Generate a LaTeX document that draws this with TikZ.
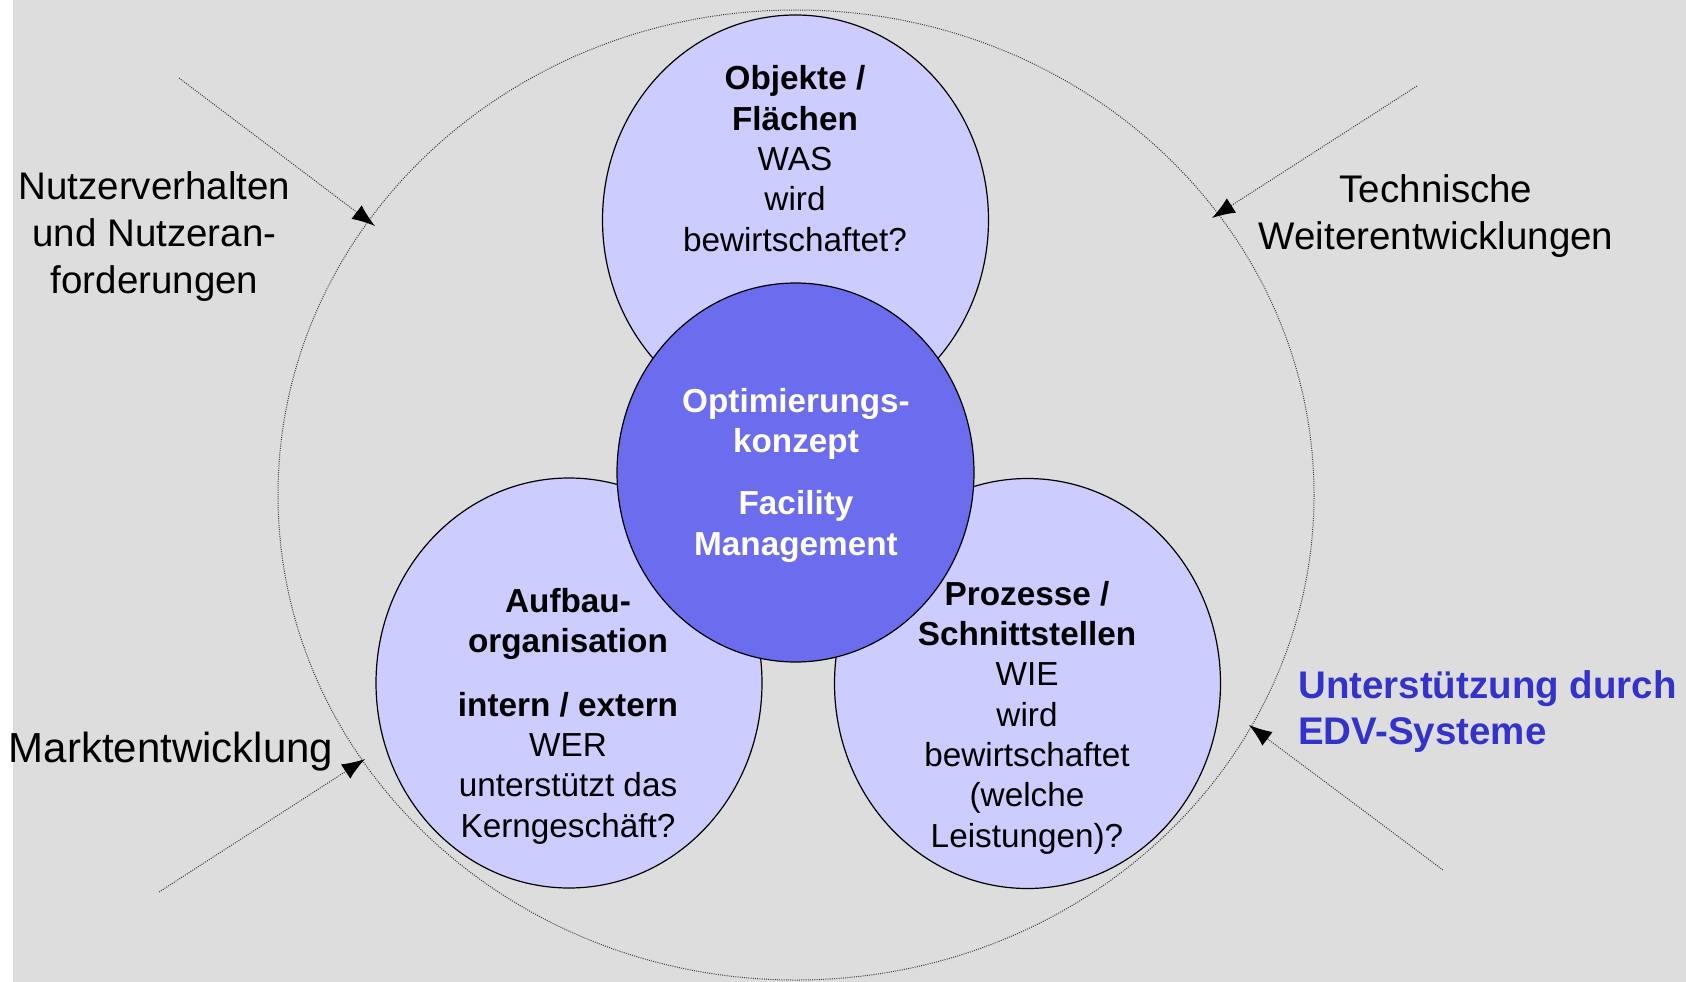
\documentclass[tikz,border=0pt]{standalone}
\usepackage{fontspec}
\setmainfont{Liberation Sans}
\usetikzlibrary{shapes.geometric,arrows.meta}
\definecolor{bg}{HTML}{DDDDDD}
\definecolor{lightc}{HTML}{CCCCFF}
\definecolor{darkc}{HTML}{6C6CEE}
\definecolor{edvblue}{HTML}{3333CC}
\begin{document}
\begin{tikzpicture}[x=1pt,y=-1pt,
  ring/.style={ellipse, draw=black, line width=1.2pt, inner sep=0pt, outer sep=0pt},
  sat/.style={ring, fill=lightc, minimum width=386pt, minimum height=410pt},
  hub/.style={ring, fill=darkc, minimum width=357pt, minimum height=379pt},
  outerring/.style={ellipse, draw=black!75, line width=1pt, dash pattern=on 1pt off 1.2pt, minimum width=1036pt, minimum height=970pt, inner sep=0pt},
  lbl/.style={align=center, anchor=base, inner sep=0pt, font=\fontsize{33.3pt}{40.3pt}\selectfont},
  side/.style={align=center, anchor=base, inner sep=0pt, font=\fontsize{38.5pt}{47pt}\selectfont},
  infl/.style={draw=black!75, line width=1pt, dash pattern=on 1pt off 1.2pt, -{Latex[length=23pt,width=17pt,color=black]}}
]
\useasboundingbox (0,0) rectangle (1686,982);
\fill[bg] (13,0) rectangle (1686,982);

% outer dotted ring
\node[outerring] (outer) at (796,495) {};

% influence arrows
\coordinate (s1) at (179,78);   \coordinate (t1) at (375,226);
\coordinate (s2) at (1417,86);  \coordinate (t2) at (1212,218);
\coordinate (s3) at (159,892);  \coordinate (t3) at (365,759);
\coordinate (s4) at (1443,870); \coordinate (t4) at (1249,725);
\draw[infl] (s1) -- (t1);
\draw[infl] (s2) -- (t2);
\draw[infl] (s3) -- (t3);
\draw[infl] (s4) -- (t4);

% circles
\node[sat] (top) at (795.5,220) {};
\node[sat] (bl) at (569,683) {};
\node[sat] (br) at (1027.5,683.5) {};
\node[hub] (hub) at (795.5,472.5) {};

% circle labels (anchor = baseline of last line)
\node[lbl] (toptxt) at (795,251) {\textbf{Objekte /}\\\textbf{Flächen}\\WAS\\wird\\bewirtschaftet?};
\node[lbl, text=white] (hubtxt) at (796,555) {\textbf{Optimierungs-}\\\textbf{konzept}\\[22pt]\textbf{Facility}\\\textbf{Management}};
\node[lbl] (bltxt) at (568,837) {\textbf{Aufbau-}\\\textbf{organisation}\\[23pt]\textbf{intern / extern}\\WER\\unterstützt das\\Kerngeschäft?};
\node[lbl] (brtxt) at (1027,847) {\textbf{Prozesse /}\\\textbf{Schnittstellen}\\WIE\\wird\\bewirtschaftet\\(welche\\Leistungen)?};

% side labels
\node[side] (nutzer) at (154.5,293) {Nutzerverhalten\\und Nutzeran-\\forderungen};
\node[side] (technik) at (1436,249) {Technische\\Weiterentwicklungen};
\node[side, font=\fontsize{42pt}{50pt}\selectfont] (markt) at (171,762) {Marktentwicklung};
\node[side, align=left, anchor=base west, text=edvblue] (edv) at (1298,744) {\textbf{Unterstützung durch}\\[-1pt]\textbf{EDV-Systeme}};
\end{tikzpicture}
\end{document}
